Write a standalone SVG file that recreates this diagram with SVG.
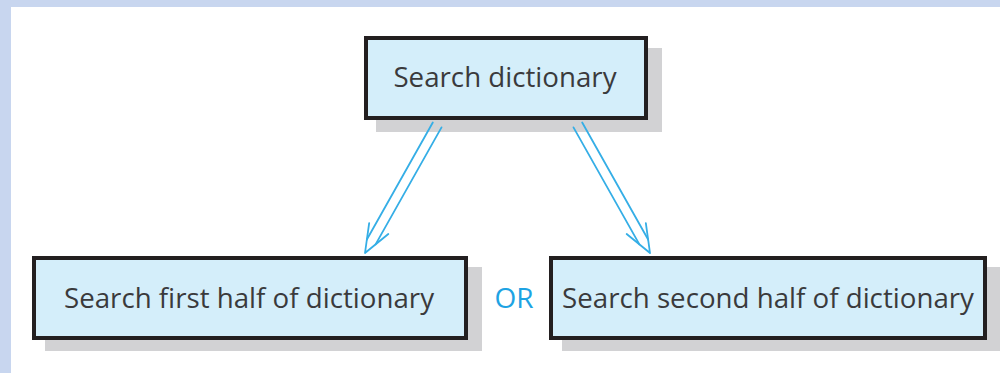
<svg xmlns="http://www.w3.org/2000/svg" width="1000" height="373" viewBox="0 0 1000 373">
  <style>
    .frame { fill: #c8d6ef; }
    .shadow { fill: #d2d2d4; }
    .box { fill: #d4eefa; stroke: #231f20; stroke-width: 4; }
    .label { font-family: "Open Sans", "Noto Sans", "Liberation Sans", sans-serif; font-size: 27.7px; fill: #3a3a3c; text-anchor: middle; }
    .or { font-family: "Open Sans", "Noto Sans", "Liberation Sans", sans-serif; font-size: 28px; fill: #1ea3e3; text-anchor: middle; }
    .arrow line, .arrow polyline { fill: none; stroke: #35aee6; stroke-width: 1.8; stroke-linecap: round; stroke-linejoin: round; }
  </style>
  <defs>
    <!-- hollow double-line arrow, tip at origin, pointing along +x -->
    <g id="double-arrow" class="arrow">
      <line x1="-147" y1="-5" x2="-12.7" y2="-5"/>
      <line x1="-147" y1="5" x2="-12.7" y2="5"/>
      <polyline points="-28,-11 0,0 -28,11"/>
    </g>
  </defs>

  <!-- page background with tinted margin -->
  <rect x="0" y="0" width="1000" height="373" class="frame"/>
  <rect x="11" y="7" width="989" height="366" fill="#ffffff"/>

  <!-- box shadows -->
  <g id="shadows">
    <rect class="shadow" x="376" y="48" width="286" height="84"/>
    <rect class="shadow" x="45" y="267" width="437" height="84"/>
    <rect class="shadow" x="562" y="267" width="438" height="84"/>
  </g>

  <g id="connectors">
    <use href="#double-arrow" transform="translate(365,253) rotate(119.4)"/>
    <use href="#double-arrow" transform="translate(650,253) rotate(60.6)"/>
  </g>

  <g id="search-dictionary">
    <rect class="box" x="366" y="38" width="280" height="80"/>
    <text class="label" x="505" y="87">Search dictionary</text>
  </g>

  <g id="search-first-half">
    <rect class="box" x="34" y="258" width="432" height="80"/>
    <text class="label" x="249" y="308">Search first half of dictionary</text>
  </g>

  <g id="or-label">
    <text class="or" x="514" y="308">OR</text>
  </g>

  <g id="search-second-half">
    <rect class="box" x="551" y="258" width="434" height="80"/>
    <text class="label" x="768" y="308">Search second half of dictionary</text>
  </g>
</svg>
